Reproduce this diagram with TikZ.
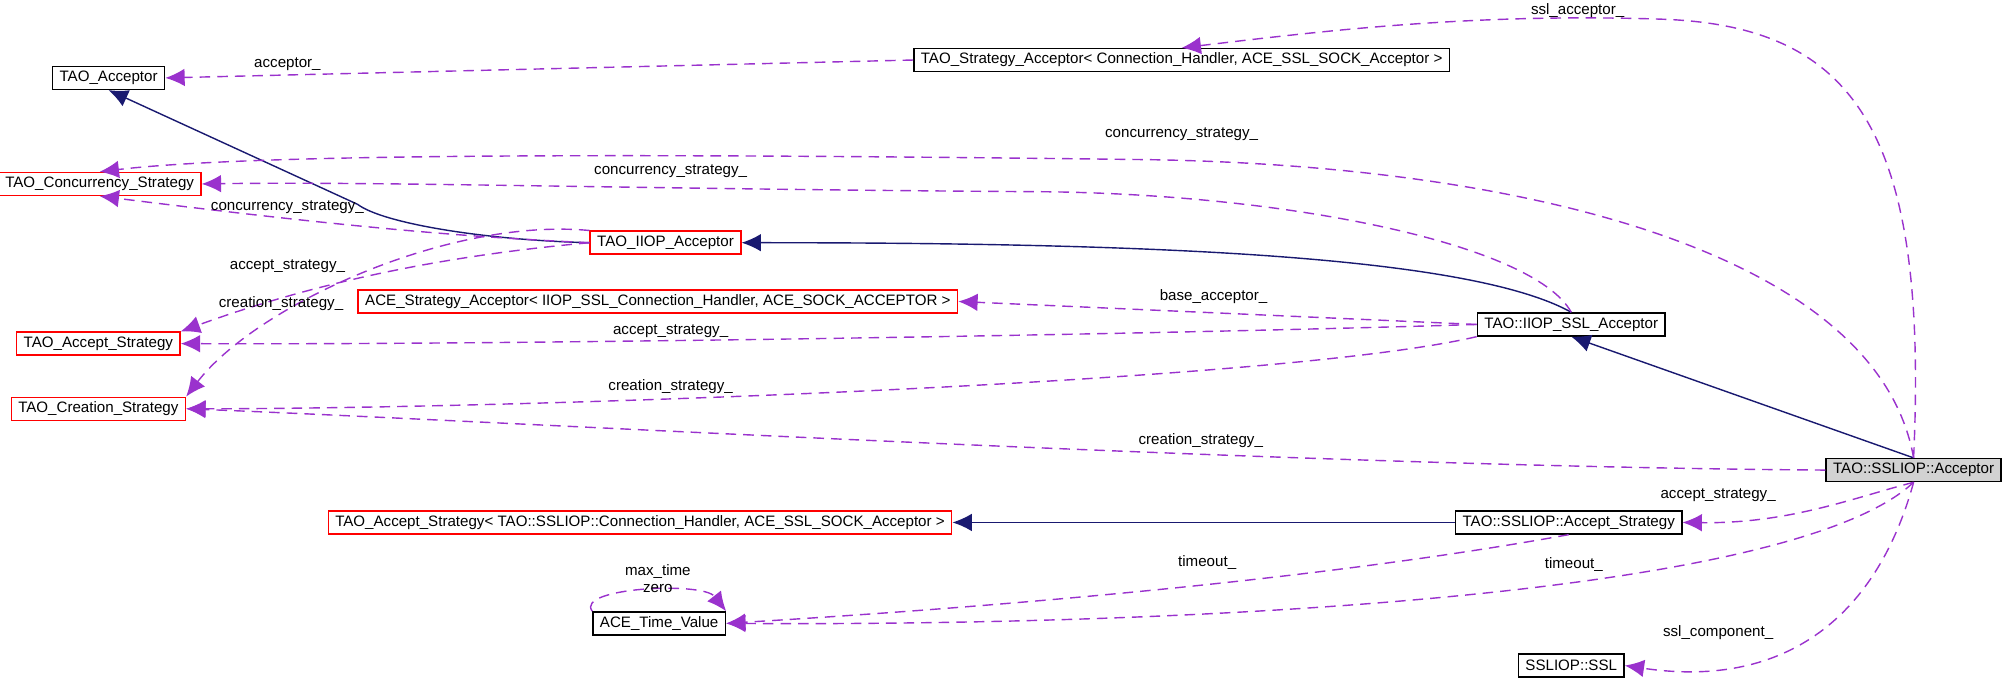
\documentclass[tikz,border=0pt]{standalone}
\usepackage{fontspec}
\setmainfont{Liberation Sans}
\usetikzlibrary{arrows.meta}
\definecolor{edgepurple}{HTML}{9A32CD}
\definecolor{edgenavy}{HTML}{191970}
\begin{document}
\begin{tikzpicture}[x=0.01277cm, y=-0.01277cm]
\tikzset{ >={Latex[length=5.5pt,width=5pt]},
  cls/.style={draw, thin, font=\fontsize{4.3}{5}\selectfont, inner xsep=2pt, inner ysep=0pt, minimum height=0.23cm},
  redcls/.style={cls, draw=red},
  use/.style={->, edgepurple, densely dashed, thin},
  inh/.style={->, edgenavy, thin},
  lbl/.style={font=\fontsize{4.3}{4.9}\selectfont, inner sep=0pt, align=center},
}
\useasboundingbox (0,0) rectangle (1568,533);

%\draw [lightgray, dashed](0,0) grid (1568,533);

\node [cls] (acc) at (85,61) {TAO\_Acceptor};
\node [cls] (stracc) at (925,47) {TAO\_Strategy\_Acceptor< Connection\_Handler, ACE\_SSL\_SOCK\_Acceptor >};
\node [redcls] (conc) at (78,144) {TAO\_Concurrency\_Strategy};
\node [redcls] (iiop) at (521,190) {TAO\_IIOP\_Acceptor};
\node [redcls] (acestr) at (515,236) {ACE\_Strategy\_Acceptor< IIOP\_SSL\_Connection\_Handler, ACE\_SOCK\_ACCEPTOR >};
\node [redcls] (accstr) at (77,269) {TAO\_Accept\_Strategy};
\node [cls] (iiopssl) at (1230,254) {TAO::IIOP\_SSL\_Acceptor};
\node [redcls] (cre) at (77,320) {TAO\_Creation\_Strategy};
\node [cls, fill=lightgray!70] (ssl) at (1498,368) {TAO::SSLIOP::Acceptor};
\node [redcls] (accstrt) at (501,409) {TAO\_Accept\_Strategy< TAO::SSLIOP::Connection\_Handler, ACE\_SSL\_SOCK\_Acceptor >};
\node [cls] (sslacc) at (1228,409) {TAO::SSLIOP::Accept\_Strategy};
\node [cls] (time) at (516,488) {ACE\_Time\_Value};
\node [cls] (comp) at (1230,521) {SSLIOP::SSL};

% inheritance
\draw [inh] (iiop.west) .. controls (380,188) and (300,175) .. (280,160) -- (acc.south);
\draw [inh] (iiopssl.north) .. controls (1150,200) and (900,190) .. (iiop.east);
\draw [inh] (ssl.north) -- (iiopssl.south);
\draw [inh] (sslacc.west) -- (accstrt.east);

% usage
\draw [use] (stracc.west) -- (acc.east);
\draw [use] (ssl.north) .. controls (1510,100) and (1450,20) .. (1300,15) .. controls (1150,10) and (1030,25) .. (stracc.north);
\draw [use] (ssl.north) .. controls (1470,200) and (1200,130) .. (900,125) .. controls (500,120) and (200,120) .. (conc.north);
\draw [use] (iiopssl.north) .. controls (1200,190) and (1000,150) .. (800,150) .. controls (500,148) and (300,142) .. (conc.east);
\draw [use] (iiop.west) .. controls (350,185) and (250,175) .. (conc.south);
\draw [use] (iiop.west) .. controls (350,200) and (250,220) .. (accstr.north east);
\draw [use] (iiop.north west) .. controls (350,170) and (200,240) .. (cre.north east);
\draw [use] (iiopssl.west) -- (acestr.east);
\draw [use] (iiopssl.west) .. controls (900,262) and (400,270) .. (accstr.east);
\draw [use] (iiopssl.south west) .. controls (1000,300) and (400,320) .. (cre.east);
\draw [use] (ssl.west) .. controls (1000,365) and (400,330) .. (cre.east);
\draw [use] (ssl.south) .. controls (1450,390) and (1400,410) .. (sslacc.east);
\draw [use] (sslacc.south) .. controls (1000,460) and (700,480) .. (time.east);
\draw [use] (ssl.south) .. controls (1400,470) and (900,490) .. (time.east);
\draw [use] (time.north west) .. controls (450,460) and (550,455) .. (time.north east);
\draw [use] (ssl.south) .. controls (1470,480) and (1400,540) .. (comp.east);

\node [lbl] at (225,50) {acceptor\_};
\node [lbl] at (1235,8) {ssl\_acceptor\_};
\node [lbl] at (925,105) {concurrency\_strategy\_};
\node [lbl] at (525,134) {concurrency\_strategy\_};
\node [lbl] at (225,162) {concurrency\_strategy\_};
\node [lbl] at (225,208) {accept\_strategy\_};
\node [lbl] at (220,238) {creation\_strategy\_};
\node [lbl] at (950,232) {base\_acceptor\_};
\node [lbl] at (525,259) {accept\_strategy\_};
\node [lbl] at (525,303) {creation\_strategy\_};
\node [lbl] at (940,345) {creation\_strategy\_};
\node [lbl] at (1345,388) {accept\_strategy\_};
\node [lbl] at (945,440) {timeout\_};
\node [lbl] at (1232,442) {timeout\_};
\node [lbl] at (515,453) {max\_time\\zero};
\node [lbl] at (1345,495) {ssl\_component\_};
\end{tikzpicture}
\end{document}
